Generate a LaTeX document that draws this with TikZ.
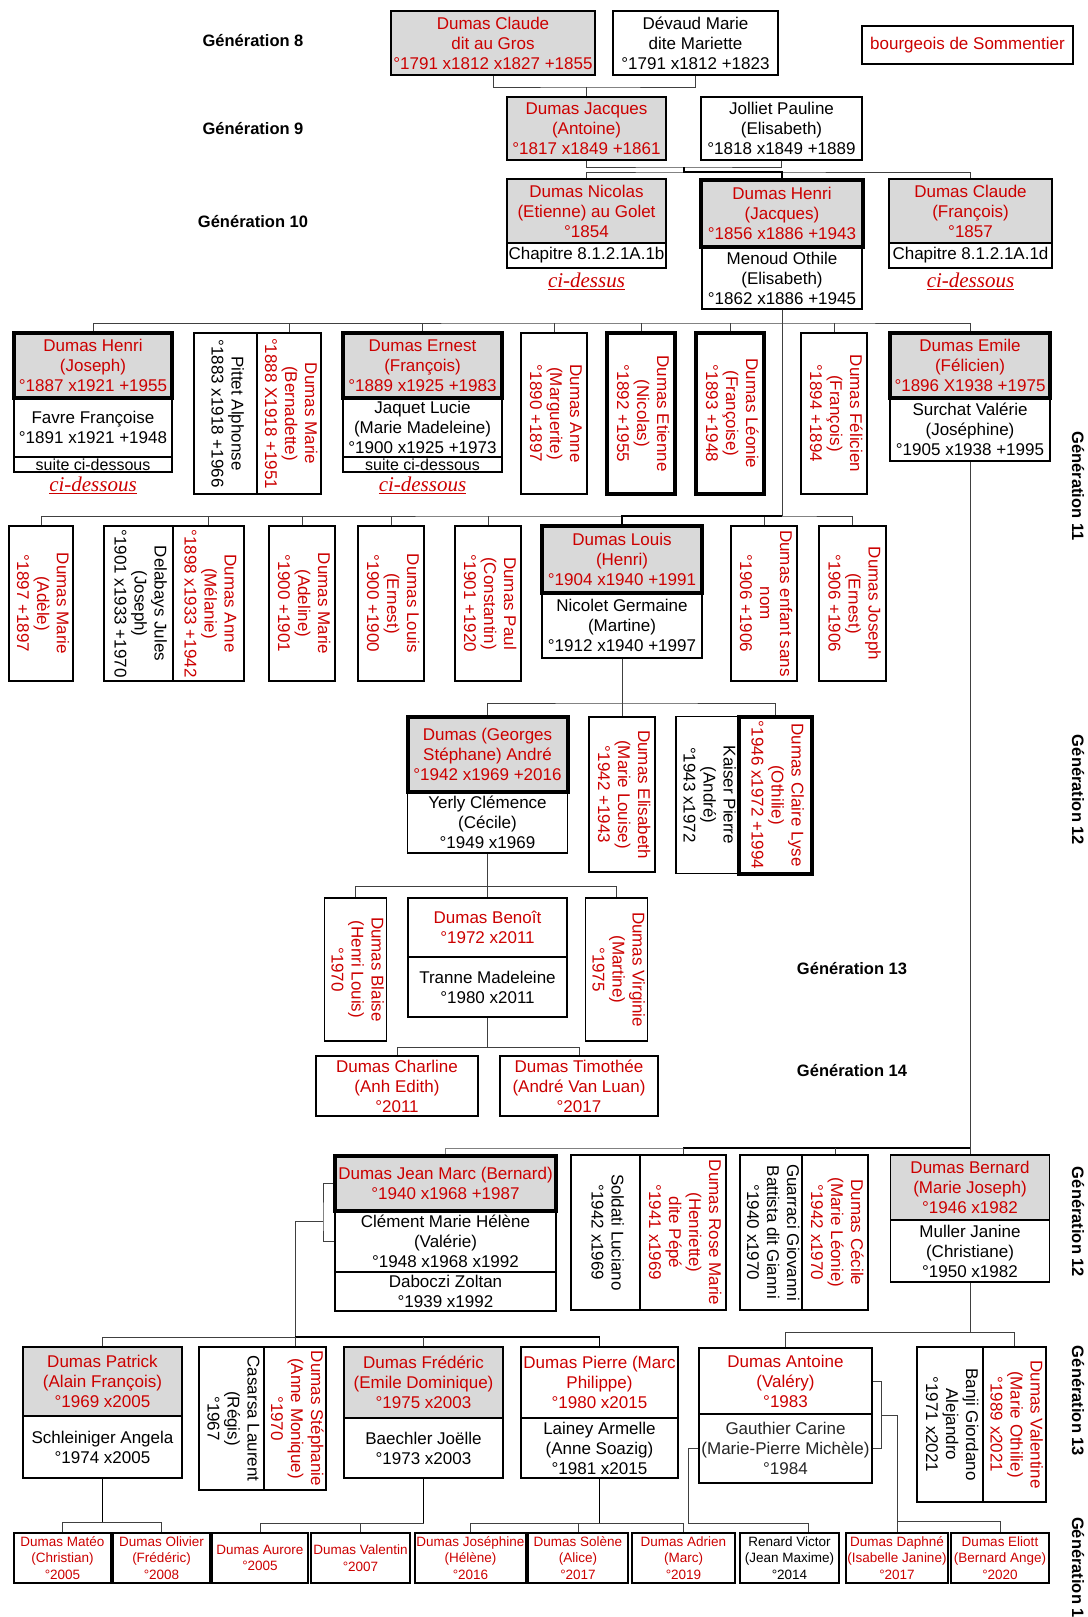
\documentclass[tikz,border=0pt]{standalone}
\usepackage{fontspec}
\setmainfont{Liberation Sans}
\newfontfamily\citefont{Liberation Serif}
\usepackage{graphicx}
\definecolor{dred}{RGB}{204,0,0}
\definecolor{boxgray}{RGB}{217,217,217}
\newcommand{\vtxt}[1]{\rotatebox{-90}{\begin{tabular}{@{}c@{}}#1\end{tabular}}}

\begin{document}
\begin{tikzpicture}[x=1pt,y=-1pt,
  pbox/.style={draw, line width=1.2pt, fill=white, inner sep=1pt, align=center, font=\fontsize{17}{20}\selectfont},
  heir/.style={pbox, fill=boxgray, text=dred},
  kin/.style={pbox, text=dred},
  heavy/.style={line width=4pt},
  small/.style={pbox, text=dred, minimum height=50, font=\fontsize{13.5}{16.5}\selectfont},
  suite/.style={pbox, minimum height=15, inner sep=0pt, font=\fontsize{16}{16}\selectfont},
  genlbl/.style={font=\fontsize{16.5}{20}\selectfont\bfseries},
  ref/.style={font=\fontsize{21}{24}\selectfont\citefont\itshape, text=dred},
  link/.style={draw=black!75, line width=1pt},
  lineage/.style={draw=black, line width=1.9pt}]
\useasboundingbox (0,0) rectangle (1087,1617);

% generation 8
\node[genlbl] (g8) at (253,41) {Génération 8};
\node[heir, minimum width=204, minimum height=64] (claudeA) at (493,43) {Dumas Claude\\dit au Gros\\°1791 x1812 x1827 +1855};
\node[pbox, minimum width=165, minimum height=64] (devaud) at (695.5,43) {Dévaud Marie\\dite Mariette\\°1791 x1812 +1823};
\node[kin, minimum width=211, minimum height=38] (bourgeois) at (967.5,45) {bourgeois de Sommentier};

% generation 9
\node[genlbl] (g9) at (253,129) {Génération 9};
\node[heir, minimum width=159, minimum height=63] (jacques) at (586.5,128.5) {Dumas Jacques\\(Antoine)\\°1817 x1849 +1861};
\node[pbox, minimum width=161, minimum height=63] (jolliet) at (781.5,128.5) {Jolliet Pauline\\(Elisabeth)\\°1818 x1849 +1889};

% generation 10
\node[genlbl] (g10) at (253,222) {Génération 10};
\node[heir, minimum width=159, minimum height=64] (nicolas) at (586.5,211) {Dumas Nicolas\\(Etienne) au Golet\\°1854};
\node[pbox, minimum width=159, minimum height=25] (chapB) at (586.5,255.5) {Chapitre 8.1.2.1A.1b};
\node[ref] (dessus) at (586.5,281) {\underline{ci-dessus}};
\node[pbox, minimum width=160, minimum height=62] (menoud) at (782,278) {Menoud Othile\\(Elisabeth)\\°1862 x1886 +1945};
\node[heir, heavy, minimum width=162, minimum height=67] (henriA) at (782,213.5) {Dumas Henri\\(Jacques)\\°1856 x1886 +1943};
\node[heir, minimum width=163, minimum height=64] (claudeB) at (970.5,211) {Dumas Claude\\(François)\\°1857};
\node[pbox, minimum width=163, minimum height=25] (chapD) at (970.5,255.5) {Chapitre 8.1.2.1A.1d};
\node[ref] (dessous) at (970.5,281) {\underline{ci-dessous}};

% generation 11, first row
\node[pbox, minimum width=158, minimum height=59] (favre) at (93,427.5) {Favre Françoise\\°1891 x1921 +1948};
\node[suite, minimum width=158] (suiteA) at (93,464.5) {suite ci-dessous};
\node[heir, heavy, minimum width=158, minimum height=65] (henriB) at (93,365.5) {Dumas Henri\\(Joseph)\\°1887 x1921 +1955};
\node[ref] (dessousA) at (93,485) {\underline{ci-dessous}};
\node[pbox, minimum width=63, minimum height=161] (pittet) at (225.5,413.5) {\vtxt{Pittet Alphonse\\°1883 x1918 +1966}};
\node[kin, minimum width=64, minimum height=161] (marieB) at (289,413.5) {\vtxt{Dumas Marie\\(Bernadette)\\°1888 X1918 +1951}};
\node[pbox, minimum width=159, minimum height=59] (jaquet) at (422.5,427.5) {Jaquet Lucie\\(Marie Madeleine)\\°1900 x1925 +1973};
\node[suite, minimum width=159] (suiteB) at (422.5,464.5) {suite ci-dessous};
\node[heir, heavy, minimum width=159, minimum height=65] (ernest) at (422.5,365.5) {Dumas Ernest\\(François)\\°1889 x1925 +1983};
\node[ref] (dessousB) at (422.5,485) {\underline{ci-dessous}};
\node[kin, minimum width=66, minimum height=161] (anne) at (554,413.5) {\vtxt{Dumas Anne\\(Marguerite)\\°1890 +1897}};
\node[kin, heavy, minimum width=68, minimum height=161] (etienne) at (641,413.5) {\vtxt{Dumas Etienne\\(Nicolas)\\°1892 +1955}};
\node[kin, heavy, minimum width=68, minimum height=161] (leonie) at (730,413.5) {\vtxt{Dumas Léonie\\(Françoise)\\°1893 +1948}};
\node[kin, minimum width=66, minimum height=161] (felicien) at (834,413.5) {\vtxt{Dumas Félicien\\(François)\\°1894 +1894}};
\node[pbox, minimum width=160, minimum height=63] (surchat) at (970,429.5) {Surchat Valérie\\(Joséphine)\\°1905 x1938 +1995};
\node[heir, heavy, minimum width=160, minimum height=65] (emile) at (970,365.5) {Dumas Emile\\(Félicien)\\°1896 X1938 +1975};

% generation 11, second row
\node[kin, minimum width=64, minimum height=155] (marieA) at (41,603.5) {\vtxt{Dumas Marie\\(Adèle)\\°1897 +1897}};
\node[pbox, minimum width=69, minimum height=155] (delabays) at (138.5,603.5) {\vtxt{Delabays Jules\\(Joseph)\\°1901 x1933 +1970}};
\node[kin, minimum width=71, minimum height=155] (anneM) at (208.5,603.5) {\vtxt{Dumas Anne\\(Mélanie)\\°1898 x1933 +1942}};
\node[kin, minimum width=66, minimum height=155] (marieAd) at (302,603.5) {\vtxt{Dumas Marie\\(Adeline)\\°1900 +1901}};
\node[kin, minimum width=66, minimum height=155] (louisE) at (391,603.5) {\vtxt{Dumas Louis\\(Ernest)\\°1900 +1900}};
\node[kin, minimum width=66, minimum height=155] (paul) at (488,603.5) {\vtxt{Dumas Paul\\(Constantin)\\°1901 +1920}};
\node[pbox, minimum width=160, minimum height=65] (nicolet) at (622,625.5) {Nicolet Germaine\\(Martine)\\°1912 x1940 +1997};
\node[heir, heavy, minimum width=160, minimum height=67] (louisH) at (622,559.5) {Dumas Louis\\(Henri)\\°1904 x1940 +1991};
\node[kin, minimum width=66, minimum height=155] (enfant) at (764,603.5) {\vtxt{Dumas enfant sans\\nom\\°1906 +1906}};
\node[kin, minimum width=67, minimum height=155] (joseph) at (852.5,603.5) {\vtxt{Dumas Joseph\\(Ernest)\\°1906 +1906}};

% generation 12, upper
\node[pbox, minimum width=160, minimum height=61] (yerly) at (487.5,822.5) {Yerly Clémence\\(Cécile)\\°1949 x1969};
\node[heir, heavy, minimum width=160, minimum height=75] (georges) at (487.5,754.5) {Dumas (Georges\\Stéphane) André\\°1942 x1969 +2016};
\node[kin, minimum width=66, minimum height=155] (elisabeth) at (622,794.5) {\vtxt{Dumas Elisabeth\\(Marie Louise)\\°1942 +1943}};
\node[pbox, minimum width=63, minimum height=157] (kaiser) at (707.5,795) {\vtxt{Kaiser Pierre\\(André)\\°1943 x1972}};
\node[kin, heavy, minimum width=73, minimum height=157] (claireL) at (775.5,795) {\vtxt{Dumas Claire Lyse\\(Othilie)\\°1946 x1972 +1994}};

% generation 13 and 14, upper
\node[genlbl] (g13a) at (852,969) {Génération 13};
\node[kin, minimum width=61, minimum height=143] (blaise) at (355.5,969.5) {\vtxt{Dumas Blaise\\(Henri Louis)\\°1970}};
\node[kin, minimum width=159, minimum height=59] (benoit) at (487.5,927.5) {Dumas Benoît\\°1972 x2011};
\node[pbox, minimum width=159, minimum height=60] (tranne) at (487.5,987) {Tranne Madeleine\\°1980 x2011};
\node[kin, minimum width=59, minimum height=143] (virginie) at (616.5,969.5) {\vtxt{Dumas Virginie\\(Martine)\\°1975}};
\node[genlbl] (g14a) at (852,1071) {Génération 14};
\node[kin, minimum width=162, minimum height=60] (charline) at (397,1086) {Dumas Charline\\(Anh Edith)\\°2011};
\node[kin, minimum width=158, minimum height=60] (timothee) at (579,1086) {Dumas Timothée\\(André Van Luan)\\°2017};

% generation 12, lower
\node[pbox, minimum width=221, minimum height=61] (clement) at (445.5,1241.5) {Clément Marie Hélène\\(Valérie)\\°1948 x1968 x1992};
\node[pbox, minimum width=221, minimum height=39] (daboczi) at (445.5,1291.5) {Daboczi Zoltan\\°1939 x1992};
\node[heir, heavy, minimum width=221, minimum height=55] (jeanmarc) at (445.5,1183.5) {Dumas Jean Marc (Bernard)\\°1940 x1968 +1987};
\node[pbox, minimum width=69, minimum height=155] (soldati) at (605.5,1232.5) {\vtxt{Soldati Luciano\\°1942 x1969}};
\node[kin, minimum width=86, minimum height=155] (roseM) at (683,1232.5) {\vtxt{Dumas Rose Marie\\(Henriette)\\dite Pépé\\°1941 x1969}};
\node[pbox, minimum width=62, minimum height=155] (guarraci) at (771,1232.5) {\vtxt{Guarraci Giovanni\\Battista dit Gianni\\°1940 x1970}};
\node[kin, minimum width=66, minimum height=155] (cecile) at (835,1232.5) {\vtxt{Dumas Cécile\\(Marie Léonie)\\°1942 x1970}};
\node[heir, minimum width=159, minimum height=65] (bernard) at (970,1187.5) {Dumas Bernard\\(Marie Joseph)\\°1946 x1982};
\node[pbox, minimum width=159, minimum height=62] (muller) at (970,1251) {Muller Janine\\(Christiane)\\°1950 x1982};

% generation 13, lower
\node[heir, minimum width=159, minimum height=69] (patrick) at (102.5,1381.5) {Dumas Patrick\\(Alain François)\\°1969 x2005};
\node[pbox, minimum width=159, minimum height=62] (schleiniger) at (102.5,1447) {Schleiniger Angela\\°1974 x2005};
\node[pbox, minimum width=65, minimum height=143] (casarsa) at (231.5,1418.5) {\vtxt{Casarsa Laurent\\(Régis)\\°1967}};
\node[kin, minimum width=62, minimum height=143] (stephanie) at (295,1418.5) {\vtxt{Dumas Stéphanie\\(Anne Monique)\\°1970}};
\node[heir, minimum width=159, minimum height=71] (frederic) at (423.5,1382.5) {Dumas Frédéric\\(Emile Dominique)\\°1975 x2003};
\node[pbox, minimum width=159, minimum height=60] (baechler) at (423.5,1448) {Baechler Joëlle\\°1973 x2003};
\node[kin, minimum width=157, minimum height=71] (pierre) at (599.5,1382.5) {Dumas Pierre (Marc\\Philippe)\\°1980 x2015};
\node[pbox, minimum width=157, minimum height=60] (lainey) at (599.5,1448) {Lainey Armelle\\(Anne Soazig)\\°1981 x2015};
\node[kin, minimum width=173, minimum height=66] (antoine) at (785.5,1381) {Dumas Antoine\\(Valéry)\\°1983};
\node[pbox, text=black!85, minimum width=173, minimum height=69] (gauthier) at (785.5,1448.5) {Gauthier Carine\\(Marie-Pierre Michèle)\\°1984};
\node[pbox, minimum width=66, minimum height=155] (banji) at (950,1424.5) {\vtxt{Banji Giordano\\Alejandro\\°1971 x2021}};
\node[kin, minimum width=63, minimum height=155] (valentine) at (1014.5,1424.5) {\vtxt{Dumas Valentine\\(Marie Othilie)\\°1989 x2021}};

% generation 14, lower
\node[small, minimum width=97] (mateo) at (62.5,1558) {Dumas Matéo\\(Christian)\\°2005};
\node[small, minimum width=97] (olivier) at (161.5,1558) {Dumas Olivier\\(Frédéric)\\°2008};
\node[small, minimum width=96] (aurore) at (260,1558) {Dumas Aurore\\°2005};
\node[small, minimum width=99] (valentin) at (360.5,1558) {Dumas Valentin\\°2007};
\node[small, minimum width=111] (josephine) at (470.5,1558) {Dumas Joséphine\\(Hélène)\\°2016};
\node[small, minimum width=100] (solene) at (578,1558) {Dumas Solène\\(Alice)\\°2017};
\node[small, minimum width=103] (adrien) at (683.5,1558) {Dumas Adrien\\(Marc)\\°2019};
\node[small, text=black, minimum width=99] (renard) at (789.5,1558) {Renard Victor\\(Jean Maxime)\\°2014};
\node[small, minimum width=102] (daphne) at (897,1558) {Dumas Daphné\\(Isabelle Janine)\\°2017};
\node[small, minimum width=98] (eliott) at (1000,1558) {Dumas Eliott\\(Bernard Ange)\\°2020};

% generation labels on the right
\node[genlbl, rotate=-90] (g11) at (1078,486) {Génération 11};
\node[genlbl, rotate=-90] (g12a) at (1078,790) {Génération 12};
\node[genlbl, rotate=-90] (g12b) at (1078,1222) {Génération 12};
\node[genlbl, rotate=-90] (g13b) at (1078,1401) {Génération 13};
\node[genlbl, rotate=-90] (g14b) at (1078,1572) {Génération 14};

% links 8 to 10
\coordinate (c8) at (586.5,87);
\draw[link] (claudeA.south) |- (c8) -| (devaud.south);
\draw[link] (c8) -- (jacques.north);
\coordinate (c9) at (684,167);
\coordinate (s10) at (684,172);
\draw[link] (jacques.south) |- (c9) -| (jolliet.south);
\draw[link] (nicolas.north) |- (s10) -| (claudeB.north);
\draw[lineage] (c9) -- (s10) -| (henriA.north);

% links 10 to 11
\coordinate (r11a) at (782,323);
\coordinate (r11b) at (782,516);
\draw[link] (menoud.south) -- (r11b);
\draw[link] (henriB.north) |- (r11a) -| (emile.north);
\foreach \n in {marieB,ernest,anne,etienne,leonie,felicien}
  \draw[link] (\n.north) -- (\n.north |- r11a);
\draw[link] (marieA.north) |- (r11b) -| (joseph.north);
\foreach \n in {anneM,marieAd,louisE,paul,enfant}
  \draw[link] (\n.north) -- (\n.north |- r11b);
\draw[lineage] (louisH.north) |- (r11b);

% links 11 to 14, upper
\coordinate (r12) at (622,703);
\draw[link] (nicolet.south) -- (elisabeth.north);
\draw[link] (georges.north) |- (r12) -| (claireL.north);
\coordinate (r13) at (487.5,886);
\draw[link] (yerly.south) -- (benoit.north);
\draw[link] (blaise.north) |- (r13) -| (virginie.north);
\coordinate (r14) at (487.5,1047);
\draw[link] (tranne.south) -- (r14);
\draw[link] (charline.north) |- (r14) -| (timothee.north);

% links 11 to 12, lower
\coordinate (e12) at (683,1148);
\draw[link] (surchat.south) -- (bernard.north);
\draw[link, draw=black!50] (jeanmarc.north) |- (e12);
\draw[lineage] (e12) -- (bernard.north |- e12);
\draw[link] (roseM.north) -- (roseM.north |- e12);
\draw[link] (cecile.north) -- (cecile.north |- e12);

% links 12 to 13, lower
\coordinate (jm) at (323,1221);
\coordinate (e13) at (295,1337);
\draw[link] (jeanmarc.west) -| (jm) |- (clement.west);
\draw[link] (jm) -| (e13);
\draw[link] (patrick.north) |- (e13);
\draw[lineage] (e13) -| (pierre.north);
\draw[link] (e13) -- (stephanie.north);
\draw[link] (frederic.north) -- (frederic.north |- e13);
\coordinate (b13) at (970,1332);
\draw[link] (muller.south) -- (b13);
\draw[link] (antoine.north) |- (b13) -| (valentine.north);

% links 13 to 14, lower
\coordinate (p14) at (102.5,1522);
\draw[lineage] (schleiniger.south) -- (p14);
\draw[link] (mateo.north) |- (p14) -| (olivier.north);
\coordinate (f14) at (423.5,1523);
\draw[lineage] (baechler.south) -- (f14);
\draw[link] (aurore.north) |- (f14);
\draw[link] (valentin.north) -- (valentin.north |- f14);
\coordinate (q14) at (599.5,1523);
\draw[lineage] (lainey.south) -- (q14);
\draw[link] (josephine.north) |- (q14) -| (adrien.north);
\draw[link] (solene.north) -- (solene.north |- q14);
\coordinate (rv) at (688,1523);
\coordinate (rvd) at (808,1523);
\draw[link] (gauthier.west) -| (rv) -- (rvd) -- (rvd |- renard.north);
\coordinate (ab) at (881,1415);
\coordinate (ad) at (897,1415);
\coordinate (a14) at (897,1521);
\draw[link] (antoine.east) -| (ab) |- (gauthier.east);
\draw[link] (ab) -- (ad) -- (daphne.north);
\draw[link] (a14) -| (eliott.north);
\end{tikzpicture}
\end{document}
